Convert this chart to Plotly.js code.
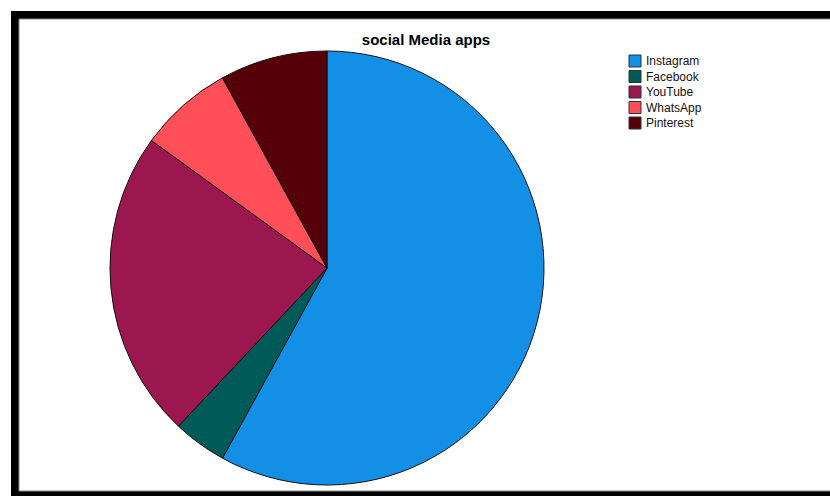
<!DOCTYPE html>
<html>
<head>
<meta charset="utf-8">
<script src="https://cdn.plot.ly/plotly-3.0.1.min.js"></script>
<style>html,body{margin:0;padding:0;background:#fff;}#chart{width:830px;height:496px;}</style>
</head>
<body>
<div id="chart"></div>
<script>
const labels = ["Instagram", "Facebook", "YouTube", "WhatsApp", "Pinterest"];
const values = [58, 4, 23, 7, 8];
const colors = ["#1390E6", "#005A58", "#9C1650", "#FF4F58", "#550008"];
const chartTitle = "social Media apps";

const W = 830, H = 496;
const px = x => x / W;
const py = y => 1 - y / H;

const shapes = [
  {type: "rect", xref: "paper", yref: "paper", layer: "below",
   x0: px(11), x1: px(W + 5), y0: py(H + 5), y1: py(11),
   fillcolor: "#000", line: {width: 0}},
  {type: "rect", xref: "paper", yref: "paper", layer: "below",
   x0: px(19), x1: px(W + 5), y0: py(491), y1: py(19),
   fillcolor: "#fff", line: {color: "#888", width: 1}}
];
const annotations = [];
const legX = 629, legY0 = 61, legStep = 15.5, box = 12;
labels.forEach((lab, i) => {
  const cy = legY0 + i * legStep;
  shapes.push({type: "rect", xref: "paper", yref: "paper",
    x0: px(legX), x1: px(legX + box), y0: py(cy + box / 2), y1: py(cy - box / 2),
    fillcolor: colors[i], line: {color: "#333", width: 1}});
  annotations.push({xref: "paper", yref: "paper", x: px(legX + box + 3), y: py(cy),
    xanchor: "left", yanchor: "middle", showarrow: false, text: lab,
    font: {family: "Liberation Sans, Arial, sans-serif", size: 12, color: "#111"}});
});

const data = [{
  type: "pie",
  labels: labels,
  values: values,
  sort: false,
  direction: "clockwise",
  rotation: 0,
  textinfo: "none",
  hoverinfo: "label+value+percent",
  marker: {colors: colors, line: {color: "#111", width: 1}},
  domain: {x: [px(327 - 217), px(327 + 217)], y: [py(268 + 217), py(268 - 217)]},
  showlegend: false
}];

const layout = {
  width: W, height: H,
  margin: {l: 0, r: 0, t: 0, b: 0},
  paper_bgcolor: "#fff",
  showlegend: false,
  title: {text: chartTitle, x: px(426), xanchor: "center", y: py(40), yanchor: "middle",
    xref: "paper", yref: "paper",
    font: {family: "Liberation Sans, Arial, sans-serif", size: 15, color: "#000", weight: "bold"}},
  shapes: shapes,
  annotations: annotations
};

Plotly.newPlot("chart", data, layout, {displayModeBar: false, staticPlot: true});
</script>
</body>
</html>
